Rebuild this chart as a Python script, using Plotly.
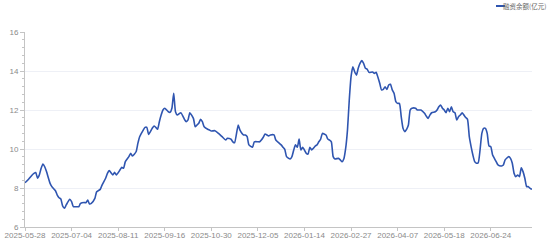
import plotly.graph_objects as go

# Category (trading-day) index of each sampled point and its value
day_index = [0, 2, 4, 5, 6, 7, 8, 9, 10, 11, 12, 14, 15, 17, 18, 19, 20, 21, 22, 23, 25, 26, 27, 28, 30,
             31, 33, 34, 35, 36, 37, 39, 40, 42, 43, 45, 46, 47, 49, 50, 51, 53, 54, 55, 56, 58, 59, 60,
             62, 63, 64, 66, 67, 68, 69, 71, 72, 73, 74, 75, 76, 77, 78, 80, 81, 82, 83, 84, 85, 87, 89,
             90, 91, 92, 94, 95, 96, 97, 98, 99, 100, 102, 103, 104, 106, 108, 110, 112, 113, 115, 116,
             117, 119, 120, 122, 123, 124, 125, 127, 128, 130, 131, 133, 134, 136, 137, 139, 140, 142,
             143, 144, 145, 146, 148, 149, 150, 151, 152, 153, 154, 155, 157, 158, 159, 160, 162, 163,
             164, 165, 166, 168, 169, 170, 171, 172, 173, 175, 176, 177, 178, 179, 180, 181, 182, 183,
             184, 185, 186, 187, 188, 189, 190, 191, 192, 194, 195, 196, 197, 198, 199, 200, 201, 202,
             203, 204, 205, 206, 207, 208, 209, 210, 211, 212, 213, 214, 215, 216, 218, 219, 220, 221,
             223, 224, 225, 226, 227, 229, 230, 231, 232, 233, 234, 235, 236, 237, 238, 239, 240, 241,
             242, 243, 244, 245, 246, 247, 248, 249, 250, 251, 252, 253, 254, 255, 256, 257, 258, 259,
             260, 261, 262, 263, 264, 266, 267, 268, 270, 271, 272, 273, 274, 275, 276, 277, 278, 279,
             280, 281, 282, 283]
balance = [8.27, 8.45, 8.67, 8.75, 8.79, 8.50, 8.67, 9.01, 9.23, 9.09, 8.84, 8.24, 8.07, 7.86, 7.64, 7.50,
           7.44, 7.08, 6.96, 7.13, 7.42, 7.30, 7.04, 7.04, 7.04, 7.21, 7.26, 7.24, 7.38, 7.18, 7.21, 7.47,
           7.81, 7.93, 8.15, 8.50, 8.75, 8.89, 8.67, 8.80, 8.67, 8.92, 9.06, 9.01, 9.35, 9.61, 9.78, 9.64,
           9.86, 10.29, 10.63, 10.97, 11.11, 11.11, 10.75, 11.06, 11.18, 11.11, 11.01, 11.40, 11.74, 12.00,
           12.09, 11.91, 11.88, 12.09, 12.86, 11.91, 11.74, 11.86, 11.52, 11.40, 11.49, 11.86, 11.57, 11.14,
           11.23, 11.32, 11.52, 11.40, 11.14, 11.01, 10.97, 10.92, 10.94, 10.80, 10.63, 10.46, 10.55, 10.50,
           10.37, 10.32, 11.23, 10.97, 10.72, 10.72, 10.63, 10.21, 10.09, 10.37, 10.37, 10.37, 10.60, 10.77,
           10.67, 10.72, 10.72, 10.46, 10.29, 10.21, 10.09, 9.98, 9.61, 9.49, 9.61, 9.95, 10.21, 10.09,
           10.51, 9.95, 10.09, 9.78, 9.74, 10.09, 9.95, 10.15, 10.21, 10.37, 10.50, 10.80, 10.72, 10.51,
           10.46, 10.37, 9.61, 9.49, 9.52, 9.44, 9.35, 9.50, 10.04, 10.97, 12.51, 13.71, 14.22, 13.96,
           13.79, 14.14, 14.39, 14.53, 14.39, 14.14, 14.09, 13.93, 13.95, 13.88, 13.93, 13.68, 13.37, 13.03,
           13.06, 13.19, 13.06, 13.28, 13.32, 13.03, 12.86, 12.43, 12.34, 12.34, 11.66, 11.06, 10.89, 11.01,
           11.23, 12.00, 12.09, 12.09, 12.00, 12.00, 12.00, 11.83, 11.69, 11.57, 11.74, 11.86, 11.91, 12.00,
           12.17, 12.26, 12.09, 12.00, 11.86, 12.09, 11.91, 12.17, 11.91, 11.86, 11.49, 11.66, 11.74, 11.86,
           11.74, 11.62, 11.52, 10.63, 10.12, 9.69, 9.35, 9.27, 9.30, 9.95, 10.80, 11.06, 11.06, 10.80,
           10.15, 10.12, 9.69, 9.52, 9.35, 9.18, 9.13, 9.18, 9.44, 9.61, 9.52, 9.27, 8.75, 8.58, 8.67,
           8.58, 9.04, 8.84, 8.50, 8.07, 8.07, 7.98, 7.93]

tick_index = [0, 26, 52, 78, 104, 130, 156, 182, 208, 234, 260]
tick_labels = ["2025-05-28", "2025-07-04", "2025-08-11", "2025-09-16", "2025-10-30", "2025-12-05",
               "2026-01-14", "2026-02-27", "2026-04-07", "2026-05-18", "2026-06-24"]
series_name = "融资余额(亿元)"
last_index = 283

LINE = "#2f55b0"
GRID = "#eef0f6"
AXIS = "#c4c4c4"
TXT = "#8a8a8a"

fig = go.Figure()
fig.add_trace(go.Scatter(
    x=day_index, y=balance, mode="lines", name=series_name,
    line=dict(color=LINE, width=1.6, shape="spline", smoothing=0.5),
    hoverinfo="x+y", showlegend=False,
))

fig.update_layout(
    width=550, height=241,
    margin=dict(l=25, r=18, t=32, b=14, autoexpand=False),
    paper_bgcolor="white", plot_bgcolor="white",
    font=dict(family="Liberation Sans, Noto Sans CJK SC, sans-serif", size=9, color=TXT),
    xaxis=dict(
        range=[0, last_index], tickmode="array", tickvals=tick_index, ticktext=tick_labels,
        showgrid=False, zeroline=False, showline=True, linecolor=AXIS, linewidth=1,
        ticks="outside", ticklen=3, tickcolor=AXIS, tickfont=dict(size=8, color=TXT),
        ticklabelstandoff=-3, automargin=False,
    ),
    yaxis=dict(
        range=[6, 16], tickmode="linear", tick0=6, dtick=2,
        showgrid=True, gridcolor=GRID, gridwidth=1, zeroline=False,
        showline=True, linecolor=AXIS, linewidth=1,
        ticks="outside", ticklen=4, tickcolor=AXIS, tickfont=dict(size=8, color=TXT),
        minor=dict(dtick=0.4, tick0=6, ticks="outside", ticklen=2, tickcolor=AXIS, showgrid=False),
        automargin=False,
    ),
)

# compact legend (short line sample + label)
LEG_Y = 1 + (32 - 6) / 195
fig.add_shape(type="line", xref="paper", yref="paper",
              x0=(496 - 25) / 507, x1=(505 - 25) / 507, y0=LEG_Y, y1=LEG_Y,
              line=dict(color=LINE, width=2))
fig.add_annotation(text=series_name, xref="paper", yref="paper",
                   x=(548 - 25) / 507, y=LEG_Y, xanchor="right", yanchor="middle",
                   showarrow=False, font=dict(family="Noto Sans CJK SC", size=6.5, color="#666666"))

fig.write_html("out.html")
